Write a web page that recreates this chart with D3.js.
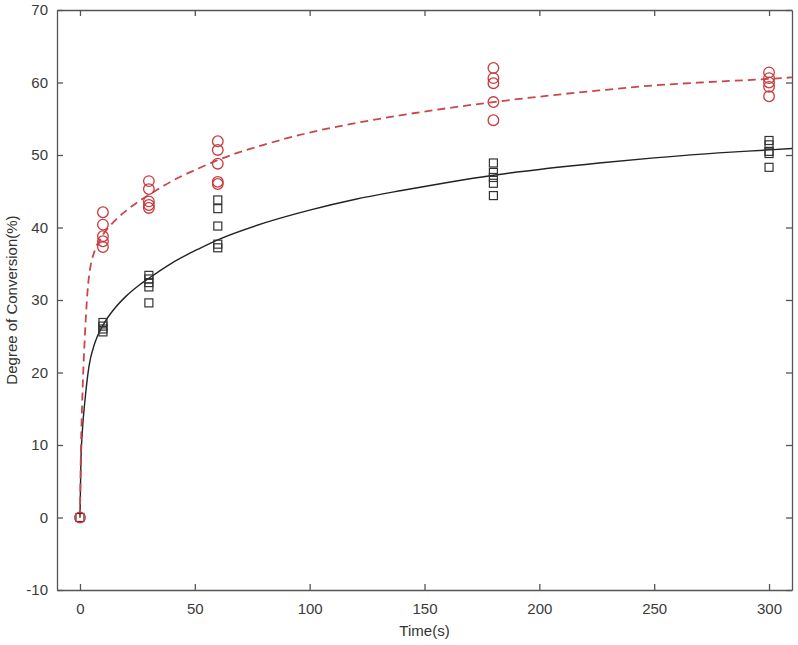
<!DOCTYPE html>
<html>
<head>
<meta charset="utf-8">
<script src="https://cdn.jsdelivr.net/npm/d3@7"></script>
<style>
  body { margin: 0; background: #fff; }
  svg text { font-family: "Liberation Sans", Arial, sans-serif; }
</style>
</head>
<body>
<svg id="chart"></svg>
<script>
const [w, h] = [798, 645];
const m = {left: 57, right: 6, top: 10, bottom: 55};

// measured points
const times = [0, 10, 30, 60, 180, 300];
const redPts = [
    [0],
    [42.1, 40.4, 38.8, 38.1, 37.3],
    [46.4, 45.3, 43.6, 43.1, 42.7],
    [51.9, 50.7, 48.8, 46.3, 46.0],
    [62.0, 60.6, 59.9, 57.3, 54.8],
    [61.4, 60.6, 60.0, 59.4, 58.1]
];
const blackPts = [
    [0],
    [26.9, 26.4, 26.0, 25.6],
    [33.4, 32.9, 32.4, 31.8, 29.6],
    [43.8, 42.6, 40.2, 37.7, 37.2],
    [48.9, 47.6, 46.9, 46.1, 44.4],
    [52.0, 51.4, 50.5, 50.2, 48.3]
];

// fitted curves
const blackFitT = [0, 0.4, 1, 2.2, 3.9, 6.5, 10, 15, 20, 26, 30, 40, 52, 60, 80, 100, 120, 140, 160, 180, 226, 250, 278, 300, 310];
const blackFitY = [0, 7.5, 11.7, 16.2, 20.8, 24.1, 26.5, 28.8, 30.5, 32.1, 33.0, 35.1, 37.1, 38.3, 40.6, 42.4, 43.9, 45.1, 46.2, 47.2, 48.9, 49.6, 50.3, 50.7, 50.9];
const redFitT = [0, 0.4, 1, 2.2, 3.6, 6.5, 8.7, 10, 13, 16, 20, 26, 30, 40, 52, 60, 80, 100, 120, 140, 180, 226, 250, 270, 300, 310];
const redFitY = [0, 9, 16.2, 25.4, 32.3, 36.9, 38.3, 39.0, 40.2, 41.2, 42.3, 43.7, 44.5, 46.4, 48.2, 49.3, 51.4, 53.1, 54.4, 55.5, 57.3, 58.9, 59.6, 60.0, 60.5, 60.7];

const xTicks = [0, 50, 100, 150, 200, 250, 300];
const yTicks = [-10, 0, 10, 20, 30, 40, 50, 60, 70];

const svg = d3.select('#chart').attr('width', w).attr('height', h);

const xScale = d3.scaleLinear().domain([-10, 310]).range([m.left, w - m.right]);
const yScale = d3.scaleLinear().domain([-10, 70]).range([h - m.bottom, m.top]);

const axisColor = '#555';
const tickLen = 6;
const plain = d => String(d);

// box + inward ticks
function styleAxis(g) {
    g.select('.domain').attr('stroke', axisColor).attr('stroke-width', 1.3);
    g.selectAll('.tick line').attr('stroke', axisColor).attr('stroke-width', 1.3);
    g.selectAll('.tick text').attr('fill', '#3a3a3a').style('font-size', '15px');
}

svg.append('g')
    .attr('transform', `translate(0, ${h - m.bottom})`)
    .call(d3.axisBottom(xScale).tickValues(xTicks).tickFormat(plain).tickSizeInner(-tickLen).tickSizeOuter(0).tickPadding(13))
    .call(styleAxis);

svg.append('g')
    .attr('transform', `translate(0, ${m.top})`)
    .call(d3.axisTop(xScale).tickValues(xTicks).tickSizeInner(-tickLen).tickSizeOuter(0).tickFormat(''))
    .call(styleAxis);

svg.append('g')
    .attr('transform', `translate(${m.left}, 0)`)
    .call(d3.axisLeft(yScale).tickValues(yTicks).tickFormat(plain).tickSizeInner(-tickLen).tickSizeOuter(0).tickPadding(9))
    .call(styleAxis);

svg.append('g')
    .attr('transform', `translate(${w - m.right}, 0)`)
    .call(d3.axisRight(yScale).tickValues(yTicks).tickSizeInner(-tickLen).tickSizeOuter(0).tickFormat(''))
    .call(styleAxis);

// curves
const line = d3.line()
    .x(d => xScale(d[0]))
    .y(d => yScale(d[1]))
    .curve(d3.curveMonotoneX);

svg.append('path')
    .datum(blackFitT.map((t, i) => [t, blackFitY[i]]))
    .attr('d', line)
    .attr('fill', 'none')
    .attr('stroke', '#222')
    .attr('stroke-width', 1.4);

svg.append('path')
    .datum(redFitT.map((t, i) => [t, redFitY[i]]))
    .attr('d', line)
    .attr('fill', 'none')
    .attr('stroke', '#c8474b')
    .attr('stroke-width', 1.8)
    .attr('stroke-dasharray', '8,5');

// markers
const blackData = blackPts.flatMap((vals, i) => vals.map(v => ({t: times[i], v})));
const redData = redPts.flatMap((vals, i) => vals.map(v => ({t: times[i], v})));

svg.selectAll('rect.sq')
    .data(blackData)
    .enter()
    .append('rect')
        .attr('class', 'sq')
        .attr('x', d => xScale(d.t) - 4)
        .attr('y', d => yScale(d.v) - 4)
        .attr('width', 8)
        .attr('height', 8)
        .attr('fill', 'none')
        .attr('stroke', '#333')
        .attr('stroke-width', 1.2);

svg.selectAll('circle')
    .data(redData)
    .enter()
    .append('circle')
        .attr('cx', d => xScale(d.t))
        .attr('cy', d => yScale(d.v))
        .attr('r', 5.3)
        .attr('fill', 'none')
        .attr('stroke', '#c83a3e')
        .attr('stroke-width', 1.3);

// axis labels
svg.append('text')
    .attr('x', (m.left + w - m.right) / 2)
    .attr('y', h - 9)
    .text('Time(s)')
    .attr('fill', '#333')
    .style('font-size', '15px')
    .style('text-anchor', 'middle');

svg.append('text')
    .attr('x', -(m.top + h - m.bottom) / 2)
    .attr('y', 17)
    .text('Degree of Conversion(%)')
    .attr('fill', '#333')
    .style('font-size', '15px')
    .style('text-anchor', 'middle')
    .attr('transform', 'rotate(-90)');
</script>
</body>
</html>
